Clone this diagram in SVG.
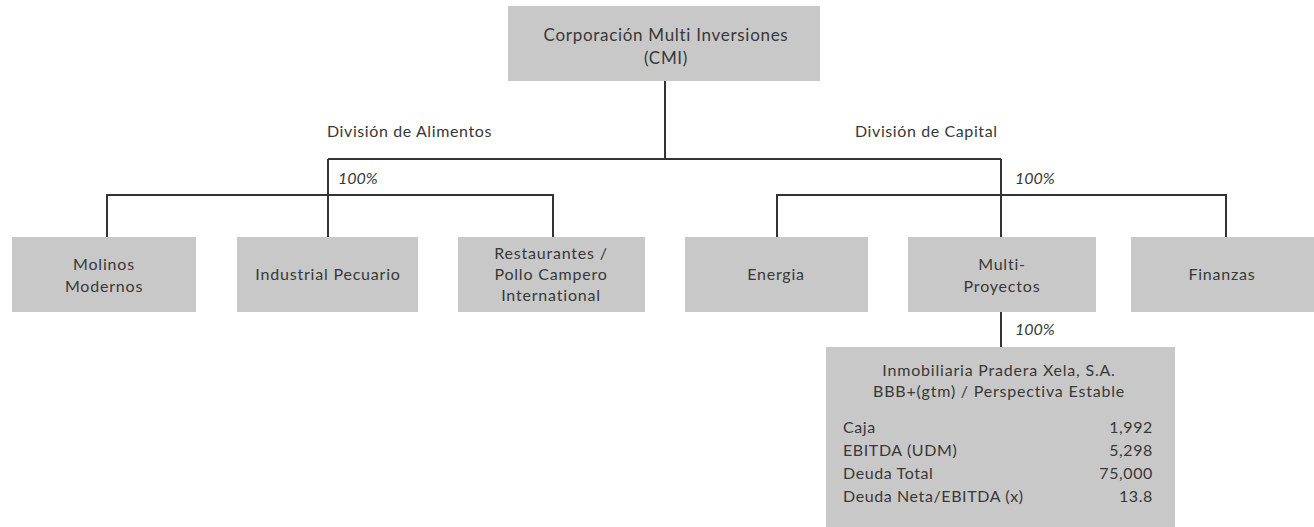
<svg xmlns="http://www.w3.org/2000/svg" width="1314" height="527" viewBox="0 0 1314 527">
<style>
.box{fill:#c8c8c8;}
.t{font-family:Lato,"Liberation Sans",sans-serif;font-size:16px;letter-spacing:0.8px;fill:#383838;text-anchor:middle;}
.h{font-family:Lato,"Liberation Sans",sans-serif;font-size:17px;letter-spacing:0.7px;fill:#383838;text-anchor:middle;}
.l{font-family:Lato,"Liberation Sans",sans-serif;font-size:16px;letter-spacing:0.6px;fill:#383838;}
.d{font-family:Lato,"Liberation Sans",sans-serif;font-size:16px;letter-spacing:0.6px;fill:#383838;}
.p{font-family:Lato,"Liberation Sans",sans-serif;font-size:16px;fill:#383838;font-style:italic;}
.c{stroke:#333;stroke-width:2;fill:none;}
</style>
<rect width="1314" height="527" fill="#fff"/>
<g id="connectors">
<path class="c" d="M665 81V159M328 159H1001M328 159V237M107 237V195H553V237M1001 159V237M777 237V195H1226V237M1001 312V347"/>
</g>
<g id="labels">
<text class="l" x="327" y="137">División de Alimentos</text>
<text class="l" x="855" y="137">División de Capital</text>
<text class="p" x="338" y="184">100%</text>
<text class="p" x="1015" y="184">100%</text>
<text class="p" x="1015" y="335">100%</text>
</g>
<g id="cmi">
<rect class="box" x="508" y="6" width="312" height="75"/>
<text class="h" x="666" y="41">Corporación Multi Inversiones</text>
<text class="h" x="666" y="64">(CMI)</text>
</g>
<g id="molinos">
<rect class="box" x="12" y="237" width="184" height="75"/>
<text class="t" x="104" y="270">Molinos</text>
<text class="t" x="104" y="292">Modernos</text>
</g>
<g id="industrial">
<rect class="box" x="237" y="237" width="181" height="75"/>
<text class="t" x="328" y="280">Industrial Pecuario</text>
</g>
<g id="restaurantes">
<rect class="box" x="458" y="237" width="187" height="75"/>
<text class="t" x="551" y="259">Restaurantes /</text>
<text class="t" x="551" y="280">Pollo Campero</text>
<text class="t" x="551" y="301">International</text>
</g>
<g id="energia">
<rect class="box" x="685" y="237" width="183" height="75"/>
<text class="t" x="776" y="280">Energia</text>
</g>
<g id="multiproyectos">
<rect class="box" x="908" y="237" width="188" height="75"/>
<text class="t" x="1002" y="270">Multi-</text>
<text class="t" x="1002" y="292">Proyectos</text>
</g>
<g id="finanzas">
<rect class="box" x="1131" y="237" width="183" height="75"/>
<text class="t" x="1222" y="280">Finanzas</text>
</g>
<g id="inmobiliaria">
<rect class="box" x="826" y="347" width="349" height="180"/>
<text class="t" x="999" y="376">Inmobiliaria Pradera Xela, S.A.</text>
<text class="t" x="999" y="397">BBB+(gtm) / Perspectiva Estable</text>
<text class="d" x="843" y="433">Caja</text>
<text class="d" x="843" y="456">EBITDA (UDM)</text>
<text class="d" x="843" y="479">Deuda Total</text>
<text class="d" x="843" y="502">Deuda Neta/EBITDA (x)</text>
<text class="d" x="1153" y="433" text-anchor="end">1,992</text>
<text class="d" x="1153" y="456" text-anchor="end">5,298</text>
<text class="d" x="1153" y="479" text-anchor="end">75,000</text>
<text class="d" x="1153" y="502" text-anchor="end">13.8</text>
</g>
</svg>
